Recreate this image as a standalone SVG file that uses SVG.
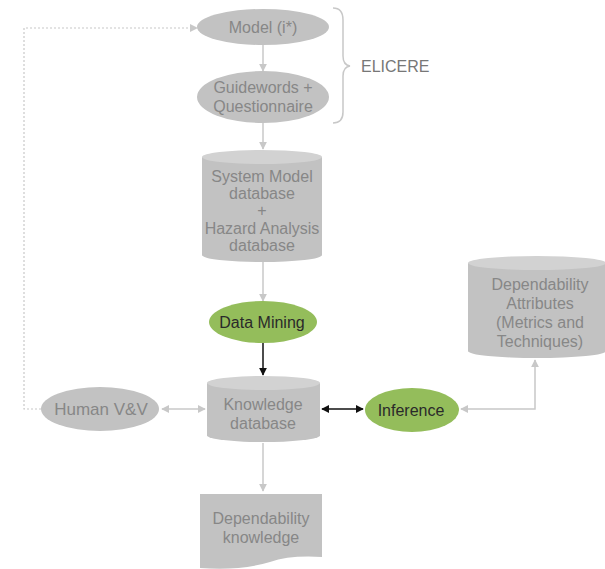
<svg xmlns="http://www.w3.org/2000/svg" width="605" height="569" viewBox="0 0 605 569">
<style>
.g{fill:#c2c2c2}
.gt{fill:#d2d2d2}
.gr{fill:#94bd5b}
.t{font-family:"Liberation Sans",Arial,sans-serif;font-size:16px;fill:#878787;text-anchor:middle}
.td{font-family:"Liberation Sans",Arial,sans-serif;font-size:16px;fill:#2a2a2a;text-anchor:middle}
.c{stroke:#c8c8c8;stroke-width:1.5;fill:none}
.k{stroke:#111;stroke-width:1.5;fill:none}
</style>
<defs>
<marker id="ag" viewBox="0 0 10 10" refX="9" refY="5" markerWidth="8" markerHeight="8" orient="auto-start-reverse" markerUnits="userSpaceOnUse"><path d="M0,0 L10,5 L0,10 z" fill="#c8c8c8"/></marker>
<marker id="ak" viewBox="0 0 10 10" refX="9" refY="5" markerWidth="8" markerHeight="8" orient="auto-start-reverse" markerUnits="userSpaceOnUse"><path d="M0,0 L10,5 L0,10 z" fill="#111"/></marker>
</defs>
<rect width="605" height="569" fill="#fff"/>
<g id="connectors">
<path class="c" d="M263,45 V71" marker-end="url(#ag)"/>
<path class="c" d="M263,123 V149" marker-end="url(#ag)"/>
<path class="c" d="M263,262 V301" marker-end="url(#ag)"/>
<path class="k" d="M263,343 V375" marker-end="url(#ak)"/>
<path class="c" d="M263,443 V491" marker-end="url(#ag)"/>
<path class="c" d="M162,409 H205" marker-start="url(#ag)" marker-end="url(#ag)"/>
<path class="k" d="M322,409 H363" marker-start="url(#ak)" marker-end="url(#ak)"/>
<path class="c" d="M461,409 H535 V360" marker-start="url(#ag)" marker-end="url(#ag)"/>
<path d="M41,409 H24 V28 H196" fill="none" stroke="#c8c8c8" stroke-width="1.2" stroke-dasharray="2,2"/>
<path d="M190,24 L198,28 L190,32 z" fill="#c8c8c8"/>
</g>
<g id="brace">
<path d="M333,8 Q343,8 343,20 V56 Q343,65 350,66 Q343,67 343,76 V112 Q343,123 333,123" fill="none" stroke="#c8c8c8" stroke-width="1.5"/>
<text x="361" y="72" font-family="Liberation Sans,Arial,sans-serif" font-size="16" fill="#777">ELICERE</text>
</g>
<g id="model">
<ellipse class="g" cx="263" cy="27" rx="66" ry="18"/>
<text class="t" x="263" y="33">Model (i*)</text>
</g>
<g id="guidewords">
<ellipse class="g" cx="263" cy="97" rx="66" ry="26"/>
<text class="t" x="263" y="93">Guidewords +</text>
<text class="t" x="263" y="112">Questionnaire</text>
</g>
<g id="systemdb">
<path class="g" d="M202,157 V255 A60,7 0 0 0 322,255 V157 z"/>
<ellipse class="gt" cx="262" cy="157" rx="60" ry="7"/>
<g style="font-size:15.5px">
<text class="t" x="262" y="182">System Model</text>
<text class="t" x="262" y="199">database</text>
<text class="t" x="262" y="216">+</text>
<text class="t" x="262" y="234">Hazard Analysis</text>
<text class="t" x="262" y="251">database</text>
</g>
</g>
<g id="datamining">
<ellipse class="gr" cx="263" cy="322" rx="54" ry="21"/>
<text class="td" x="262" y="328">Data Mining</text>
</g>
<g id="knowledgedb">
<path class="g" d="M207,383 V436 A57,7 0 0 0 320,436 V383 z"/>
<ellipse class="gt" cx="263.5" cy="383" rx="56.5" ry="7"/>
<text class="t" x="263" y="410">Knowledge</text>
<text class="t" x="263" y="429">database</text>
</g>
<g id="humanvv">
<ellipse class="g" cx="100" cy="409" rx="59" ry="22"/>
<text class="t" x="101" y="415" style="font-size:17px">Human V&amp;V</text>
</g>
<g id="inference">
<ellipse class="gr" cx="412" cy="410" rx="47" ry="22"/>
<text class="td" x="411" y="416">Inference</text>
</g>
<g id="depattr">
<path class="g" d="M468,263 V351 A69,7 0 0 0 606,351 V263 z"/>
<ellipse class="gt" cx="537" cy="263" rx="69" ry="7"/>
<g style="font-size:16.5px">
<text class="t" x="540" y="290">Dependability</text>
<text class="t" x="540" y="309">Attributes</text>
<text class="t" x="540" y="328">(Metrics and</text>
<text class="t" x="540" y="347">Techniques)</text>
</g>
</g>
<g id="depknowledge">
<path class="g" d="M200,494 H322 V557 Q290,555 270,562 Q240,571 200,568 z"/>
<g style="font-size:16.5px">
<text class="t" x="261" y="524">Dependability</text>
<text class="t" x="261" y="543">knowledge</text>
</g>
</g>
</svg>
